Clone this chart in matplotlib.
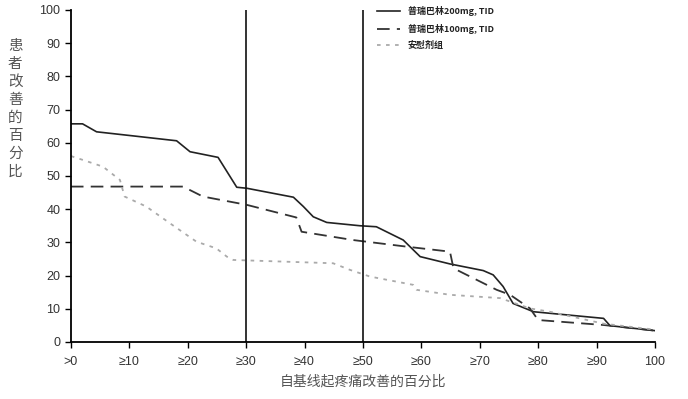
import matplotlib
matplotlib.use("Agg")
import matplotlib.pyplot as plt

plt.rcParams['font.family'] = ['Noto Sans CJK SC', 'DejaVu Sans']

# values
x_200 = [0, 2, 4.4, 10, 18.1, 20.4, 25.2, 28.4, 30.1, 38.1, 39.8, 41.5, 43.8,
         49.5, 52.3, 56.9, 59.8, 64.9, 70.6, 72.3, 74, 75.7, 79.2, 91.2, 92.3, 100]
y_200 = [65.7, 65.7, 63.3, 62.2, 60.6, 57.3, 55.6, 46.6, 46.3, 43.6, 40.8, 37.7, 36,
         35, 34.7, 30.7, 25.7, 23.5, 21.5, 20.2, 16.7, 11.6, 9.1, 7.1, 4.9, 3.4]

x_100 = [0, 19.2, 22.6, 30.1, 38.6, 39.5, 48.3, 57.5, 64.9, 65.5, 72.9, 75.2,
         78.6, 80, 91.2, 100]
y_100 = [46.8, 46.8, 43.8, 41.3, 37.5, 33.2, 30.7, 28.7, 27.2, 22.2, 15.7, 14.2,
         10.1, 6.6, 5.1, 3.4]

x_pbo = [0, 2.1, 5.5, 8.4, 9.2, 12.9, 17, 21.5, 24.9, 26.7, 27.8, 44.9, 47.8,
         51.2, 58.6, 59.2, 64.9, 73.5, 78.6, 82, 91.2, 100]
y_pbo = [56, 54.8, 52.8, 48.8, 43.8, 40.8, 35.7, 30.2, 28.2, 25.7, 24.7, 23.7, 21.7,
         19.7, 17.2, 15.7, 14.2, 13.2, 10.1, 9.1, 5.5, 3.7]

xticks = [0, 10, 20, 30, 40, 50, 60, 70, 80, 90, 100]
xtick_labels = ['>0', '≥10', '≥20', '≥30', '≥40', '≥50', '≥60', '≥70', '≥80', '≥90', '100']
yticks = list(range(0, 101, 10))
cut_lines = [30, 50]

fig = plt.figure(figsize=(6.88, 3.99), dpi=100)
ax = fig.add_axes([0.103, 0.143, 0.849, 0.832])

ax.plot(x_200, y_200, color='#222222', lw=1.2, label='普瑞巴林200mg, TID')
ax.plot(x_100, y_100, color='#333333', lw=1.3, ls=(0, (7, 4)), label='普瑞巴林100mg, TID')
ax.plot(x_pbo, y_pbo, color='#aaaaaa', lw=1.3, ls=(0, (2, 3)), label='安慰剂组')
for c in cut_lines:
    ax.axvline(c, color='#111111', lw=1.2)

ax.set_xlim(0, 100)
ax.set_ylim(0, 100)
ax.set_xticks(xticks)
ax.set_xticklabels(xtick_labels, fontsize=9, color='#333333',
                   family=['Liberation Sans', 'DejaVu Sans'])
ax.set_yticks(yticks)
ax.set_yticklabels([str(v) for v in yticks], fontsize=9, color='#333333',
                   family=['Liberation Sans', 'DejaVu Sans'])
ax.tick_params(axis='y', length=4, width=1)
ax.tick_params(axis='x', length=4, width=1, pad=6)
for s in ['top', 'right']:
    ax.spines[s].set_visible(False)
for s in ['left', 'bottom']:
    ax.spines[s].set_linewidth(1.3)

ax.set_xlabel('自基线起疼痛改善的百分比', fontsize=10, color='#555555', labelpad=5)
fig.text(0.022, 0.727, '\n'.join('患者改善的百分比'), fontsize=10.5, color='#555555',
         ha='center', va='center', linespacing=1.36)

leg = ax.legend(loc='upper left', bbox_to_anchor=(0.51, 1.035), frameon=False,
                fontsize=6.5, handlelength=2.6, labelspacing=0.8, handletextpad=0.8)
for t in leg.get_texts():
    t.set_fontweight('bold')
    t.set_color('#222222')

fig.savefig('out.png', dpi=100)
